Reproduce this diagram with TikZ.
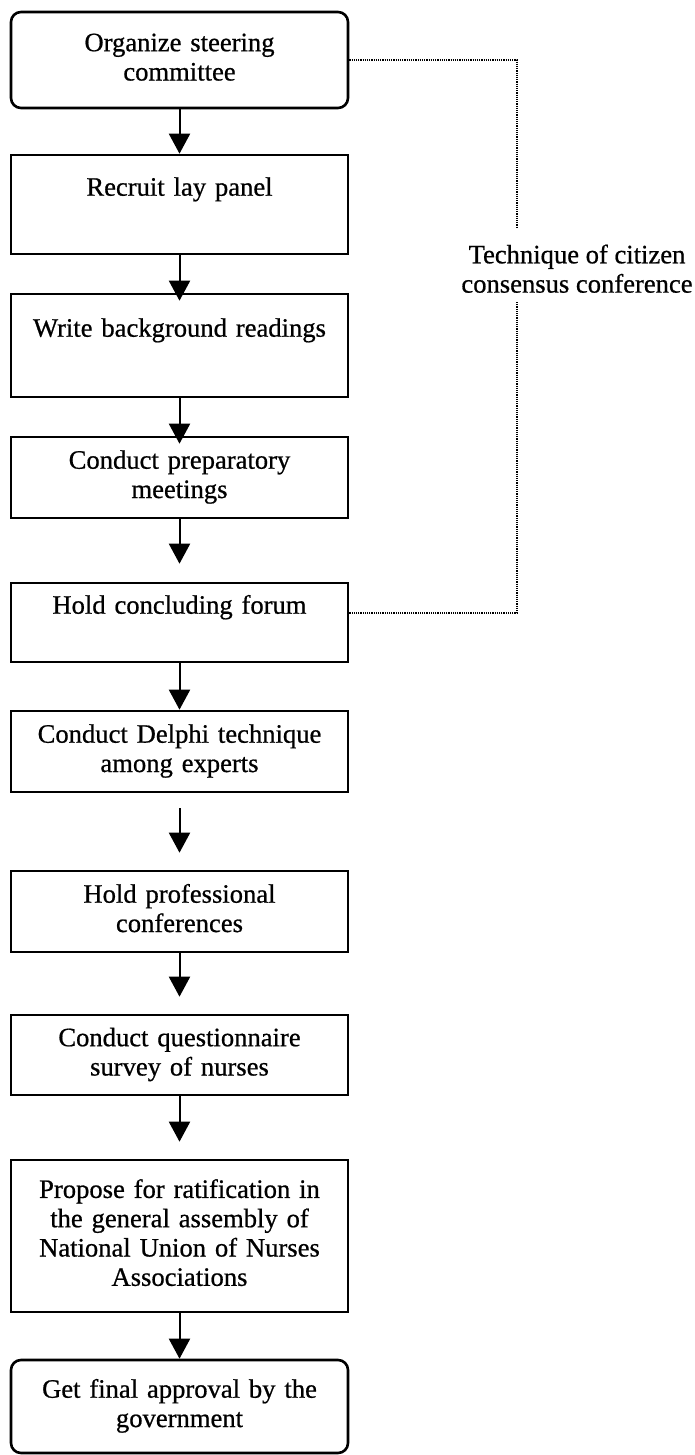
\documentclass[tikz,border=0pt]{standalone}
\usepackage{fontspec}
\setmainfont{Liberation Serif}[FakeBold=0.7]
\usetikzlibrary{arrows.meta}
\begin{document}
\begin{tikzpicture}[x=1pt,y=-1pt,
  txt/.style={font=\fontsize{26.6}{29.3}\selectfont, execute at begin node=\strut, execute at end node=\strut},
  stepbox/.style={txt, draw, line width=2.6pt, minimum width=337pt, text width=330pt, align=center, inner sep=0pt},
  roundbox/.style={stepbox, rounded corners=10pt},
  flow/.style={line width=2pt, -{Triangle[width=21pt,length=20pt]}},
  dotline/.style={line width=1.4pt, dash pattern=on 1.2pt off 1pt},
  note/.style={txt, inner sep=0pt, align=center}]
\useasboundingbox (0,0) rectangle (694,1455);

\node[roundbox, minimum height=96pt] (b1) at (179.5,60) {Organize steering\\committee};
\node[stepbox, minimum height=99pt] (b2) at (179.5,204.5) {Recruit lay panel\\[5.4pt]};
\node[stepbox, minimum height=103pt] (b3) at (179.5,345.5) {Write background readings\\[17.4pt]};
\node[stepbox, minimum height=81pt] (b4) at (179.5,477.5) {Conduct preparatory\\meetings};
\node[stepbox, minimum height=79pt] (b5) at (179.5,622.5) {Hold concluding forum\\[-4.6pt]};
\node[stepbox, minimum height=81pt] (b6) at (179.5,751.5) {Conduct Delphi technique\\among experts};
\node[stepbox, minimum height=81pt] (b7) at (179.5,911.5) {Hold professional\\conferences};
\node[stepbox, minimum height=80pt] (b8) at (179.5,1055) {Conduct questionnaire\\survey of nurses};
\node[stepbox, minimum height=152pt] (b9) at (179.5,1236) {Propose for ratification in\\the general assembly of\\National Union of Nurses\\Associations};
\node[roundbox, minimum height=93pt] (b10) at (179.5,1406.5) {Get final approval by the\\government};

\draw[flow] (b1) -- (b2);
\draw[flow, shorten >=-8pt] (b2) -- (b3);
\draw[flow, shorten >=-8pt] (b3) -- (b4);
\draw[flow, shorten >=18pt] (b4) -- (b5);
\draw[flow] (b5) -- (b6);
\draw[flow, shorten <=15pt, shorten >=17pt] (b6) -- (b7);
\draw[flow, shorten >=17pt] (b7) -- (b8);
\draw[flow, shorten >=17pt] (b8) -- (b9);
\draw[flow] (b9) -- (b10);

\node[note] (tech) at (577,273) {Technique of citizen\\consensus conference};
\coordinate (c1) at (517,228);
\coordinate (c2) at (517,302);
\draw[dotline] (b1.east) -| (c1);
\draw[dotline] (c2) |- ([yshift=9.5pt]b5.east);
\end{tikzpicture}
\end{document}
